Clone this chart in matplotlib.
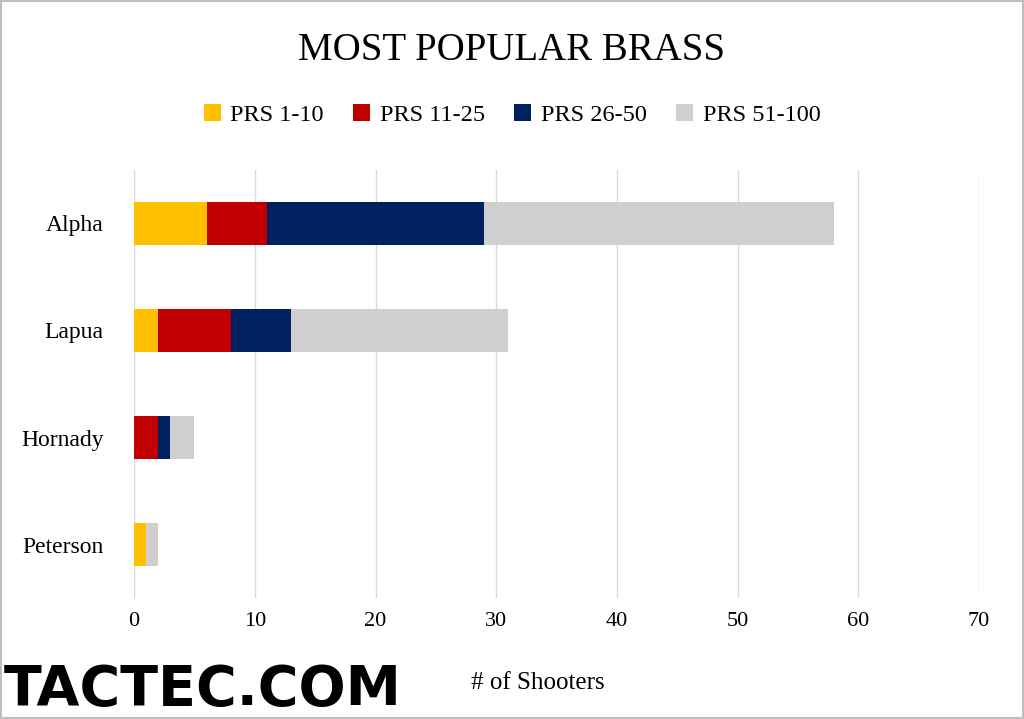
import matplotlib
matplotlib.use("Agg")
import matplotlib.pyplot as plt
from matplotlib.patches import Rectangle

categories = ["Alpha", "Lapua", "Hornady", "Peterson"]
series = ["PRS 1-10", "PRS 11-25", "PRS 26-50", "PRS 51-100"]
values = [
    [6, 2, 0, 1],
    [5, 6, 2, 0],
    [18, 5, 1, 0],
    [29, 18, 2, 1],
]
colors = ["#FFC000", "#C00000", "#002060", "#D0CECE"]

plt.rcParams['font.family'] = ['Liberation Serif', 'DejaVu Serif']
fig = plt.figure(figsize=(10.24, 7.19), dpi=100)
ax = fig.add_axes([0.131, 0.168, 0.825, 0.596])
ypos = list(range(len(categories)))[::-1]
left = [0] * len(categories)
for s, vals, c in zip(series, values, colors):
    ax.barh(ypos, vals, left=left, height=0.4, color=c, label=s, zorder=3)
    left = [l + v for l, v in zip(left, vals)]
ax.set_yticks(ypos)
ax.set_yticklabels(categories, fontsize=17)
ax.set_xlim(0, 70)
ax.set_ylim(-0.5, 3.5)
ax.set_xticks(range(0, 71, 10))
ax.tick_params(axis='x', labelsize=16, length=0, pad=10)
ax.tick_params(axis='y', length=0, pad=22)
ax.grid(axis='x', color='#D9D9D9', lw=1, zorder=0)
for sp in ['top', 'right', 'bottom']:
    ax.spines[sp].set_visible(False)
ax.spines['left'].set_color('#D9D9D9')
fig.text(0.5, 0.93, "MOST POPULAR BRASS", ha='center', va='center', fontsize=28)
fig.legend(loc='center', bbox_to_anchor=(0.5, 0.84), ncol=4, frameon=False,
           fontsize=17.5, handlelength=0.7, handleheight=0.7, columnspacing=1.2, handletextpad=0.4)
fig.text(0.46, 0.05, "# of Shooters", ha='left', va='center', fontsize=18)
fig.text(0.004, 0.04, "TACTEC.COM", ha='left', va='center', fontsize=40,
         fontweight='heavy', family=['DejaVu Sans'], color='black')
fig.patches.append(Rectangle((0.001, 0.001), 0.998, 0.998, transform=fig.transFigure,
                             fill=False, edgecolor='#BFBFBF', lw=1.5))
fig.savefig("out.png", dpi=100)
